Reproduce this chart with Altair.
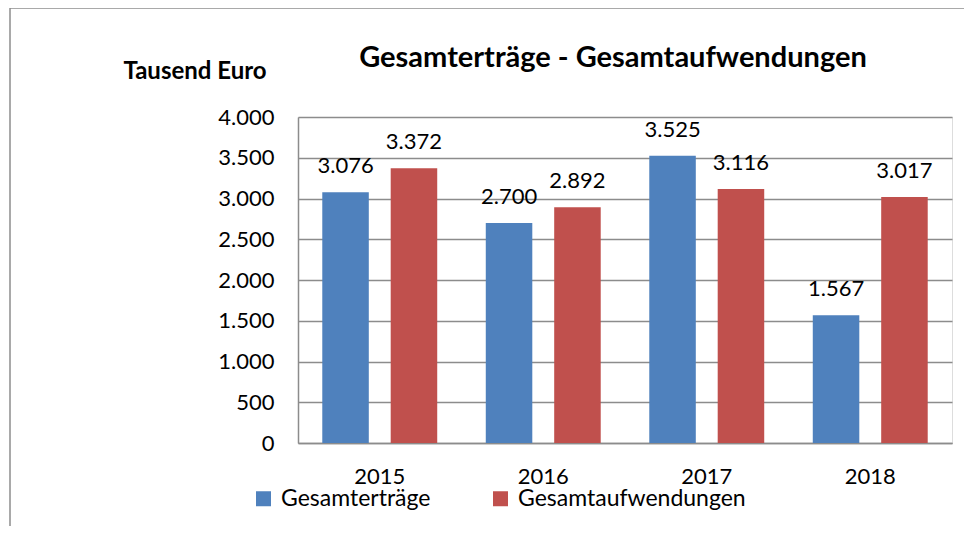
import altair as alt
import pandas as pd

years = ["2015", "2016", "2017", "2018"]
ertraege = [3076, 2700, 3525, 1567]
aufwendungen = [3372, 2892, 3116, 3017]
series = ["Gesamterträge", "Gesamtaufwendungen"]
colors = ["#4F81BD", "#C0504D"]
y_ticks = [0, 500, 1000, 1500, 2000, 2500, 3000, 3500, 4000]

rows = []
for i, y in enumerate(years):
    rows.append({"Jahr": y, "Serie": series[0], "Wert": ertraege[i]})
    rows.append({"Jahr": y, "Serie": series[1], "Wert": aufwendungen[i]})
df = pd.DataFrame(rows)
df["Label"] = df["Wert"].map(lambda v: f"{v:,}".replace(",", "."))

FONT = "Lato"
W, H = 654, 326

x_enc = alt.X("Jahr:N", sort=years,
              scale=alt.Scale(paddingInner=0.297, paddingOuter=0.1485),
              axis=alt.Axis(title=None, labelAngle=0, ticks=False, labelPadding=23,
                            labelFontSize=22, labelFont=FONT, labelColor="#000000",
                            domainColor="#8c8c8c", domainWidth=1.5))
xoff = alt.XOffset("Serie:N", sort=series, scale=alt.Scale(paddingInner=0.32, paddingOuter=0))
y_enc = alt.Y("Wert:Q", scale=alt.Scale(domain=[0, 4000]),
              axis=alt.Axis(title=None, values=y_ticks, ticks=False, labelPadding=24,
                            labelExpr="replace(format(datum.value, ',d'), ',', '.')",
                            labelFontSize=22, labelFont=FONT, labelColor="#000000",
                            domainColor="#8c8c8c", domainWidth=1.5,
                            gridColor="#8c8c8c", gridWidth=1.5))
color = alt.Color("Serie:N", sort=series, scale=alt.Scale(domain=series, range=colors),
                  legend=alt.Legend(title=None, orient="none", direction="horizontal",
                                    legendX=-46, legendY=370, symbolType="square",
                                    symbolSize=225, symbolStrokeWidth=0, labelFontSize=23,
                                    labelFont=FONT, labelColor="#000000", columnPadding=58,
                                    labelOffset=6, labelLimit=0))

bars = alt.Chart(df).mark_bar().encode(x=x_enc, xOffset=xoff, y=y_enc, color=color)
labels = alt.Chart(df).mark_text(baseline="bottom", dy=-14, fontSize=22, font=FONT,
                                 color="#000000").encode(
    x=alt.X("Jahr:N", sort=years), xOffset=alt.XOffset("Serie:N", sort=series),
    y="Wert:Q", text="Label:N")

title_df = pd.DataFrame({"t": ["Gesamterträge - Gesamtaufwendungen"]})
title = alt.Chart(title_df).mark_text(fontSize=29, fontWeight="bold", font=FONT,
                                      baseline="alphabetic", color="#000000").encode(
    x=alt.value(315), y=alt.value(-50), text="t:N")
unit_df = pd.DataFrame({"t": ["Tausend Euro"]})
unit = alt.Chart(unit_df).mark_text(fontSize=24, fontWeight="bold", font=FONT,
                                    baseline="alphabetic", color="#000000").encode(
    x=alt.value(-103), y=alt.value(-38), text="t:N")

frame_df = pd.DataFrame({"a": [0]})
top_line = alt.Chart(frame_df).mark_rule(color="#8c8c8c", strokeWidth=1.5).encode(
    x=alt.value(-288), x2=alt.value(670), y=alt.value(-109))
left_line = alt.Chart(frame_df).mark_rule(color="#8c8c8c", strokeWidth=1.5).encode(
    x=alt.value(-288), y=alt.value(-109), y2=alt.value(420))

chart = alt.layer(bars, labels, title, unit, top_line, left_line).properties(
    width=W, height=H,
    autosize=alt.AutoSizeParams(type="none"),
    padding={"left": 290, "top": 109, "right": 12, "bottom": 83},
).configure_view(stroke=None).configure(background="#ffffff")

chart.save("out.html", embed_options={"renderer": "svg", "actions": False})
